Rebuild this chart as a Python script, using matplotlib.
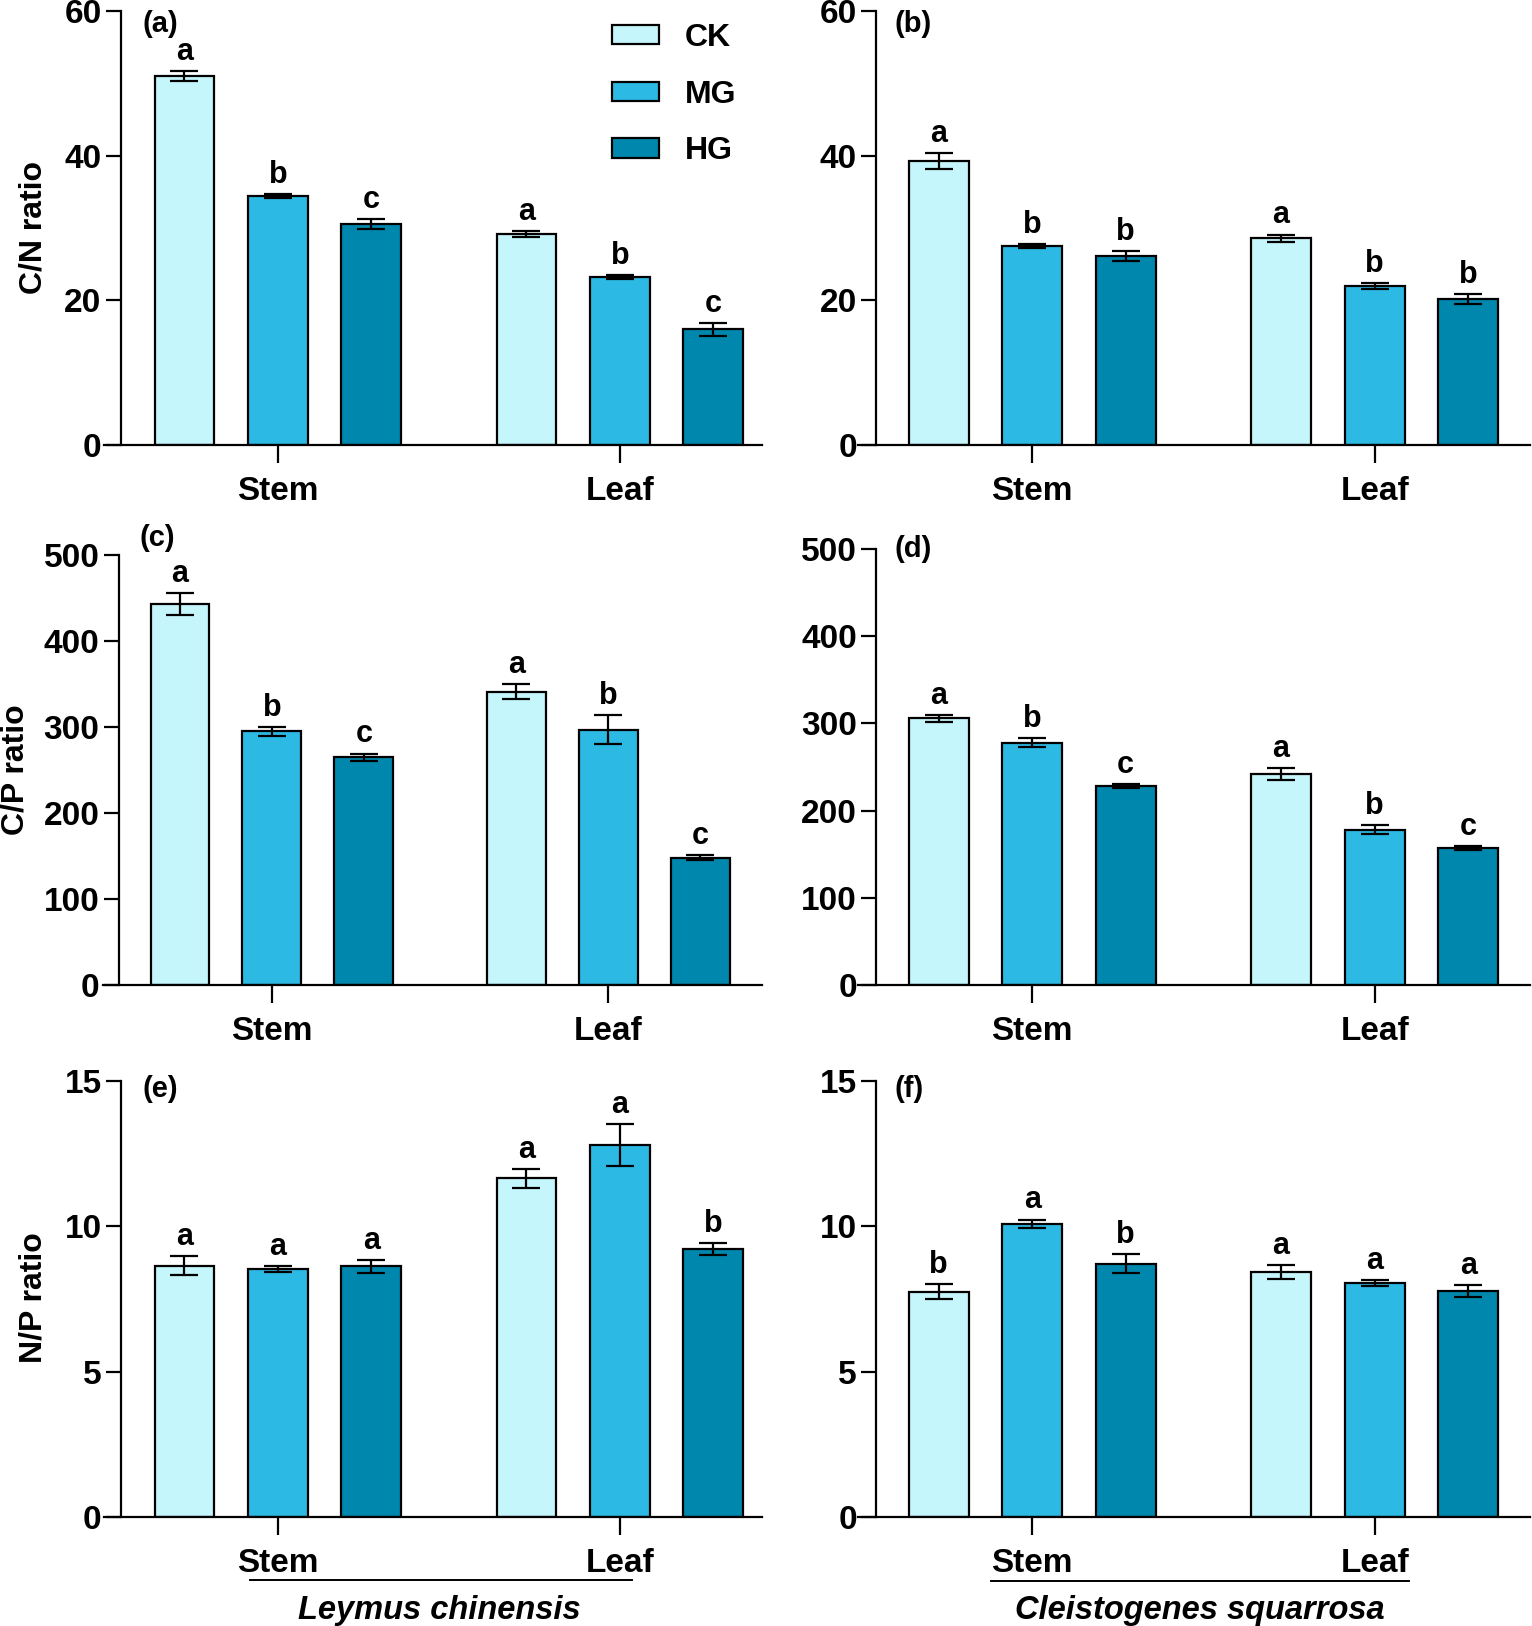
import matplotlib
matplotlib.use("Agg")
import matplotlib.pyplot as plt
from matplotlib.lines import Line2D
from matplotlib.patches import Patch
import numpy as np

plt.rcParams['font.family'] = ['Liberation Sans', 'DejaVu Sans']
plt.rcParams['font.weight'] = 'bold'

W, H = 1532, 1626

# data
treatments = ['CK', 'MG', 'HG']
organs = ['Stem', 'Leaf']
colors = ['#C4F6FC', '#2CBAE5', '#0087AE']

# order within each list: Stem CK, MG, HG, Leaf CK, MG, HG
cn_ley = [51.0, 34.4, 30.5, 29.2, 23.2, 16.0]
cn_ley_err = [0.7, 0.25, 0.7, 0.4, 0.3, 0.9]
cn_ley_sig = ['a', 'b', 'c', 'a', 'b', 'c']

cn_cle = [39.2, 27.5, 26.1, 28.6, 22.0, 20.2]
cn_cle_err = [1.1, 0.3, 0.7, 0.5, 0.4, 0.7]
cn_cle_sig = ['a', 'b', 'b', 'a', 'b', 'b']

cp_ley = [443, 295, 265, 341, 297, 148]
cp_ley_err = [13, 5, 4, 9, 17, 3]
cp_ley_sig = ['a', 'b', 'c', 'a', 'b', 'c']

cp_cle = [306, 278, 228, 242, 178, 157]
cp_cle_err = [4, 5, 2, 7, 5, 2]
cp_cle_sig = ['a', 'b', 'c', 'a', 'b', 'c']

np_ley = [8.65, 8.52, 8.62, 11.65, 12.8, 9.22]
np_ley_err = [0.33, 0.1, 0.22, 0.32, 0.73, 0.2]
np_ley_sig = ['a', 'a', 'a', 'a', 'a', 'b']

np_cle = [7.75, 10.08, 8.72, 8.43, 8.05, 7.77]
np_cle_err = [0.25, 0.15, 0.32, 0.25, 0.1, 0.2]
np_cle_sig = ['b', 'a', 'b', 'a', 'a', 'a']

bar_x = np.array([0, 1, 2, 3.66, 4.66, 5.66])
group_x = [1, 4.66]


def px_rect(l, r, t, b):
    return [l / W, 1 - b / H, (r - l) / W, (b - t) / H]


fig = plt.figure(figsize=(W / 100, H / 100), dpi=100)

panels = [
    # rect px, xlim, spine pos, ylim, ticks, values, err, sig, panel label, label pos
    (px_rect(104, 762, 11, 445), (-0.861, 6.18), -0.679, (0, 60), [0, 20, 40, 60],
     cn_ley, cn_ley_err, cn_ley_sig, '(a)', (0.058, 0.97)),
    (px_rect(858, 1530, 11, 445), (-0.861, 6.32), -0.666, (0, 60), [0, 20, 40, 60],
     cn_cle, cn_cle_err, cn_cle_sig, '(b)', (0.055, 0.97)),
    (px_rect(103, 762, 555, 985), (-0.837, 6.33), -0.665, (0, 500), [0, 100, 200, 300, 400, 500],
     cp_ley, cp_ley_err, cp_ley_sig, '(c)', (0.056, 1.04)),
    (px_rect(858, 1530, 549, 985), (-0.861, 6.32), -0.666, (0, 500), [0, 100, 200, 300, 400, 500],
     cp_cle, cp_cle_err, cp_cle_sig, '(d)', (0.055, 1.0)),
    (px_rect(104, 762, 1081, 1517), (-0.861, 6.18), -0.679, (0, 15), [0, 5, 10, 15],
     np_ley, np_ley_err, np_ley_sig, '(e)', (0.058, 0.981)),
    (px_rect(858, 1530, 1081, 1517), (-0.861, 6.32), -0.666, (0, 15), [0, 5, 10, 15],
     np_cle, np_cle_err, np_cle_sig, '(f)', (0.055, 0.981)),
]

axes = []
for rect, xlim, spx, ylim, yt, vals, errs, sigs, plabel, lpos in panels:
    ax = fig.add_axes(rect)
    ax.bar(bar_x, vals, width=0.64, color=colors * 2, edgecolor='black', linewidth=1.6, zorder=2)
    ax.errorbar(bar_x, vals, yerr=errs, fmt='none', ecolor='black', elinewidth=1.6,
                capsize=10, capthick=1.6, zorder=3, clip_on=False)
    for x, v, e, s in zip(bar_x, vals, errs, sigs):
        ax.annotate(s, (x, v + e), xytext=(0, 3), textcoords='offset points',
                    ha='center', va='bottom', fontsize=22, fontweight='bold')
    ax.set_xlim(*xlim)
    ax.set_ylim(*ylim)
    ax.set_yticks(yt)
    ax.set_xticks(group_x)
    ax.set_xticklabels(organs, fontsize=24, fontweight='bold')
    ax.tick_params(axis='y', labelsize=24, width=1.6, length=11, pad=3)
    ax.tick_params(axis='x', width=1.6, length=13, pad=9)
    for lab in ax.get_yticklabels():
        lab.set_fontweight('bold')
    ax.spines['top'].set_visible(False)
    ax.spines['right'].set_visible(False)
    ax.spines['left'].set_position(('data', spx))
    ax.spines['left'].set_linewidth(1.6)
    ax.spines['bottom'].set_linewidth(1.6)
    ax.patch.set_visible(False)
    ax.text(lpos[0], lpos[1], plabel, transform=ax.transAxes,
            fontsize=21, fontweight='bold', va='center', ha='left')
    axes.append(ax)

# y labels
fig.text(33 / W, 1 - 228 / H, 'C/N ratio', rotation=90, fontsize=23, fontweight='bold',
         ha='center', va='center')
fig.text(16 / W, 1 - 770 / H, 'C/P ratio', rotation=90, fontsize=23, fontweight='bold',
         ha='center', va='center')
fig.text(33 / W, 1 - 1298 / H, 'N/P ratio', rotation=90, fontsize=23, fontweight='bold',
         ha='center', va='center')

# legend
handles = [Patch(facecolor=c, edgecolor='black', linewidth=1.6) for c in colors]
axes[0].legend(handles, treatments, loc='upper left', bbox_to_anchor=(0.772, 0.973),
               frameon=False, handlelength=1.47, handleheight=0.56,
               labelspacing=0.84, handletextpad=0.8, borderaxespad=0, borderpad=0,
               prop={'weight': 'bold', 'size': 23})

# species names under bottom panels
fig.add_artist(Line2D([250 / W, 632 / W], [1 - 1580 / H, 1 - 1580 / H], color='black', linewidth=1.4))
fig.add_artist(Line2D([991 / W, 1409 / W], [1 - 1581 / H, 1 - 1581 / H], color='black', linewidth=1.4))
fig.text(439 / W, 1 - 1610 / H, 'Leymus chinensis', fontsize=23.5, fontweight='bold',
         style='italic', ha='center', va='center')
fig.text(1200 / W, 1 - 1610 / H, 'Cleistogenes squarrosa', fontsize=23.5, fontweight='bold',
         style='italic', ha='center', va='center')

fig.savefig('out.png', dpi=100)
